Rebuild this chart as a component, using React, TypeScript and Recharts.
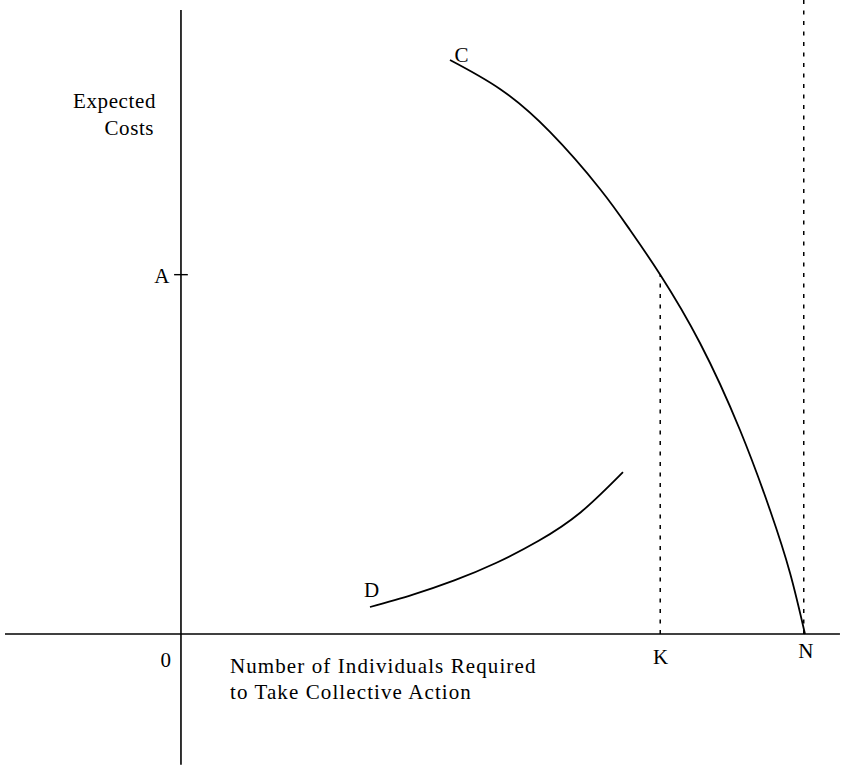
import React from 'react';
import { LineChart, Line, XAxis, YAxis, ReferenceLine, ReferenceDot } from 'recharts';

// Curve C (expected costs, falling toward N)
const C_X = [43.11, 51.12, 59.13, 67.15, 71.96, 76.8, 83.17, 89.58, 94.39, 97.6, 100];
const C_Y = [100.0, 94.95, 87.46, 77.53, 70.38, 62.6, 50.7, 35.54, 21.6, 10.63, 0];
// Curve D (rising)
const D_X = [30.29, 37.05, 43.8, 50.56, 57.32, 64.07, 70.83];
const D_Y = [4.7, 6.83, 9.34, 12.42, 16.24, 21.22, 28.2];

const K = 76.8;
const N = 99.8;
const A = 62.6;

const dataC = C_X.map((x, i) => ({ x, y: C_Y[i] }));
const dataD = D_X.map((x, i) => ({ x, y: D_Y[i] }));

type Lbl = { text: string; x: number; y: number; anchor: 'start' | 'middle' | 'end' };
const LABELS: Lbl[] = [
  { text: 'C', x: 45.0, y: 100.9, anchor: 'middle' },
  { text: 'D', x: 30.6, y: 7.7, anchor: 'middle' },
  { text: 'A', x: -3.0, y: 62.4, anchor: 'middle' },
  { text: '0', x: -2.4, y: -4.5, anchor: 'middle' },
  { text: 'K', x: 76.9, y: -4.0, anchor: 'middle' },
  { text: 'N', x: 100.2, y: -3.0, anchor: 'middle' },
  { text: 'Expected', x: -4.0, y: 92.86, anchor: 'end' },
  { text: 'Costs', x: -4.3, y: 88.15, anchor: 'end' },
  { text: 'Number of Individuals Required', x: 7.85, y: -5.57, anchor: 'start' },
  { text: 'to Take Collective Action', x: 7.85, y: -10.1, anchor: 'start' },
];

const FONT = '"Liberation Serif", "Times New Roman", serif';

export default function App() {
  return (
    <div style={{ position: 'absolute', left: 0, top: 0, width: 846, height: 769, background: '#fff' }}>
      <LineChart width={846} height={769} margin={{ top: 0, right: 0, bottom: 0, left: 0 }}>
        <XAxis type="number" dataKey="x" domain={[-29.0, 106.57]} hide allowDataOverflow />
        <YAxis type="number" dataKey="y" domain={[-23.52, 110.45]} hide allowDataOverflow />
        <ReferenceLine segment={[{ x: -28.2, y: 0 }, { x: 105.6, y: 0 }]} stroke="#000" strokeWidth={1.6} />
        <ReferenceLine segment={[{ x: 0, y: 108.7 }, { x: 0, y: -22.8 }]} stroke="#000" strokeWidth={1.6} />
        <ReferenceLine segment={[{ x: -1.1, y: A }, { x: 1.1, y: A }]} stroke="#000" strokeWidth={1.4} />
        <ReferenceLine segment={[{ x: K, y: 0 }, { x: K, y: A }]} stroke="#000" strokeWidth={1.5} strokeDasharray="4 6.5" />
        <ReferenceLine segment={[{ x: N, y: 0 }, { x: N, y: 110.45 }]} stroke="#000" strokeWidth={1.5} strokeDasharray="4 6.5" />
        <Line data={dataC} dataKey="y" type="natural" stroke="#000" strokeWidth={1.8} dot={false} activeDot={false} isAnimationActive={false} />
        <Line data={dataD} dataKey="y" type="natural" stroke="#000" strokeWidth={1.8} dot={false} activeDot={false} isAnimationActive={false} />
        {LABELS.map((l, i) => (
          <ReferenceDot
            key={i}
            x={l.x}
            y={l.y}
            r={0}
            isFront
            shape={(p: any) => (
              <text
                x={p.cx}
                y={p.cy}
                textAnchor={l.anchor}
                dominantBaseline="central"
                fontFamily={FONT}
                fontSize={21}
                letterSpacing={l.text.length > 10 ? 1.1 : 0.6}
                fill="#000"
              >
                {l.text}
              </text>
            )}
          />
        ))}
      </LineChart>
    </div>
  );
}
